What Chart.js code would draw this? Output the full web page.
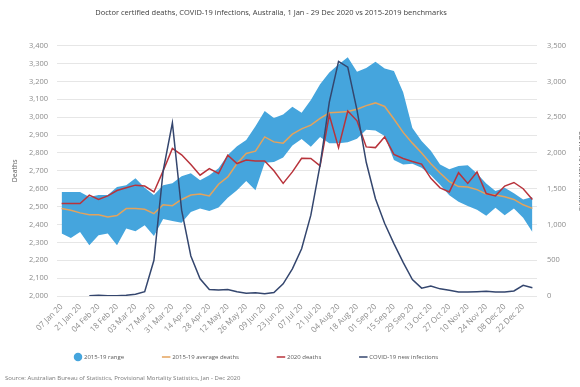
<!DOCTYPE html>
<html>
<head>
<meta charset="utf-8">
<script src="https://cdn.jsdelivr.net/npm/chart.js@4/dist/chart.umd.min.js"></script>
<style>
  html, body { margin: 0; padding: 0; overflow: hidden; background: #fff; }
  #wrap { position: relative; width: 588px; height: 387px; }
</style>
</head>
<body>
<div id="wrap"><canvas id="chart"></canvas></div>
<script>
// Week-ending dates, 2020
const weeks = [
  '07 Jan 20', '14 Jan 20', '21 Jan 20', '28 Jan 20',
  '04 Feb 20', '11 Feb 20', '18 Feb 20', '25 Feb 20',
  '03 Mar 20', '10 Mar 20', '17 Mar 20', '24 Mar 20', '31 Mar 20',
  '07 Apr 20', '14 Apr 20', '21 Apr 20', '28 Apr 20',
  '05 May 20', '12 May 20', '19 May 20', '26 May 20',
  '02 Jun 20', '09 Jun 20', '16 Jun 20', '23 Jun 20', '30 Jun 20',
  '07 Jul 20', '14 Jul 20', '21 Jul 20', '28 Jul 20',
  '04 Aug 20', '11 Aug 20', '18 Aug 20', '25 Aug 20',
  '01 Sep 20', '08 Sep 20', '15 Sep 20', '22 Sep 20', '29 Sep 20',
  '06 Oct 20', '13 Oct 20', '20 Oct 20', '27 Oct 20',
  '03 Nov 20', '10 Nov 20', '17 Nov 20', '24 Nov 20',
  '01 Dec 20', '08 Dec 20', '15 Dec 20', '22 Dec 20', '29 Dec 20'
];

// 2015-19 weekly range of doctor certified deaths
const rangeHigh = [2582, 2582, 2582, 2554, 2565, 2565, 2610, 2620, 2659, 2605, 2565, 2620, 2631,
  2670, 2687, 2648, 2676, 2715, 2788, 2838, 2872, 2950, 3035, 2995, 3015, 3058,
  3025, 3096, 3185, 3250, 3295, 3335, 3254, 3275, 3310, 3273, 3258, 3140, 2940,
  2867, 2812, 2735, 2709, 2727, 2732, 2685, 2629, 2587, 2605, 2575, 2540, 2554];
const rangeLow = [2350, 2325, 2358, 2284, 2340, 2350, 2284, 2378, 2362, 2396, 2335, 2430, 2420,
  2410, 2470, 2490, 2475, 2495, 2550, 2592, 2643, 2592, 2745, 2750, 2775, 2842,
  2878, 2835, 2890, 2855, 2855, 2860, 2880, 2930, 2925, 2895, 2760, 2735, 2740,
  2718, 2675, 2622, 2563, 2527, 2503, 2483, 2449, 2493, 2452, 2489, 2437, 2358];

// 2015-19 average weekly deaths
const avgDeaths = [2490, 2480, 2465, 2455, 2455, 2442, 2450, 2489, 2489, 2485, 2461, 2510, 2505,
  2540, 2565, 2570, 2560, 2625, 2666, 2741, 2797, 2810, 2890, 2862, 2855, 2905,
  2935, 2956, 2993, 3025, 3028, 3032, 3045, 3065, 3080, 3060, 2990, 2915, 2855,
  2800, 2740, 2688, 2640, 2612, 2610, 2595, 2570, 2565, 2555, 2540, 2510, 2490];

// 2020 weekly deaths
const deaths2020 = [2517, 2517, 2517, 2564, 2540, 2560, 2590, 2605, 2620, 2615, 2582, 2700, 2825,
  2790, 2735, 2676, 2713, 2685, 2788, 2741, 2760, 2755, 2755, 2700, 2630, 2694,
  2770, 2769, 2728, 3012, 2830, 3035, 2980, 2834, 2830, 2890, 2792, 2769, 2752,
  2738, 2658, 2605, 2582, 2690, 2630, 2694, 2573, 2560, 2615, 2635, 2600, 2540];

// COVID-19 new infections per week
const newInfections = [null, null, null, 5, 10, 5, 3, 10, 25, 60, 500, 1750, 2420,
  1200, 560, 240, 90, 85, 90, 60, 40, 45, 33, 50, 170, 380,
  660, 1130, 1830, 2710, 3280, 3200, 2600, 1870, 1360, 1013, 733, 470, 230,
  110, 140, 100, 80, 55, 55, 60, 65, 55, 55, 70, 150, 115];

const deathTicks = { min: 2000, max: 3400, step: 100 };
const infectionTicks = { min: 0, max: 3500, step: 500 };

const titleText = 'Doctor certified deaths, COVID-19 infections, Australia, 1 Jan - 29 Dec 2020 vs 2015-2019 benchmarks';
const sourceText = 'Source: Australian Bureau of Statistics, Provisional Mortality Statistics, Jan - Dec 2020';

const FONT = "'Open Sans', 'Liberation Sans', sans-serif";
const BAND = '#45a5dd';
const AVG = '#e4a35c';
const RED = '#b8333b';
const NAVY = '#34466e';
const LEGEND_PAD = 39;

// Places the title, legend and source note
const placeBlocks = {
  id: 'placeBlocks',
  afterLayout(chart) {
    const t = chart.titleBlock;
    if (t) { t.left = 0; t.right = 542; }
    const lg = chart.legend;
    if (lg) {
      const d = 36 - lg.left; lg.left += d; lg.right += d;
      lg.top = 357 - LEGEND_PAD - 3;
      lg.bottom = lg.top + LEGEND_PAD + 18;
      lg.height = lg.bottom - lg.top;
    }
    chart.boxes.forEach(b => {
      if (b !== t && b.options && b.options.text === sourceText) {
        const w = b.right - b.left; b.left = 5; b.right = 5 + w;
      }
    });
  }
};

new Chart(document.getElementById('chart'), {
  type: 'line',
  data: {
    labels: weeks,
    datasets: [
      {
        label: '2015-19 range',
        data: rangeHigh,
        yAxisID: 'y',
        borderWidth: 0,
        borderColor: BAND,
        backgroundColor: BAND,
        pointRadius: 0,
        pointStyle: 'circle',
        fill: '+1',
        order: 5
      },
      {
        label: 'range low',
        data: rangeLow,
        yAxisID: 'y',
        borderWidth: 0,
        borderColor: BAND,
        backgroundColor: BAND,
        pointRadius: 0,
        fill: false,
        order: 5
      },
      {
        label: '2015-19 average deaths',
        data: avgDeaths,
        yAxisID: 'y',
        borderColor: AVG,
        backgroundColor: AVG,
        borderWidth: 1.5,
        pointRadius: 0,
        pointStyle: 'line',
        fill: false,
        order: 3
      },
      {
        label: '2020 deaths',
        data: deaths2020,
        yAxisID: 'y',
        borderColor: RED,
        backgroundColor: RED,
        borderWidth: 1.5,
        pointRadius: 0,
        pointStyle: 'line',
        fill: false,
        order: 2
      },
      {
        label: 'COVID-19 new infections',
        data: newInfections,
        yAxisID: 'y2',
        borderColor: NAVY,
        backgroundColor: NAVY,
        borderWidth: 1.5,
        pointRadius: 0,
        pointStyle: 'line',
        fill: false,
        order: 1
      }
    ]
  },
  options: {
    responsive: true,
    maintainAspectRatio: false,
    animation: false,
    devicePixelRatio: 1,
    layout: { padding: 0 },
    plugins: {
      title: {
        display: true,
        text: titleText,
        color: '#404040',
        font: { family: FONT, size: 7.5, weight: 'normal', lineHeight: 1.2 },
        padding: { top: 8.2, bottom: 28.5 }
      },
      subtitle: {
        display: true,
        position: 'bottom',
        align: 'start',
        text: sourceText,
        color: '#7a7a7a',
        font: { family: FONT, size: 6, lineHeight: 1.2 },
        padding: { top: 4, bottom: 5.3 }
      },
      legend: {
        position: 'bottom',
        align: 'start',
        maxHeight: 29.5,
        labels: {
          usePointStyle: true,
          padding: LEGEND_PAD,
          color: '#595959',
          font: { family: FONT, size: 6 },
          filter: item => item.datasetIndex !== 1,
          sort: (a, b) => a.datasetIndex - b.datasetIndex
        }
      },
      tooltip: { enabled: false }
    },
    scales: {
      x: {
        offset: true,
        grid: { display: false, drawTicks: false },
        border: { display: false },
        afterFit(scale) { scale.height = 45; },
        ticks: {
          autoSkip: false,
          minRotation: 45,
          maxRotation: 45,
          padding: 6,
          color: '#8c8c8c',
          font: { family: FONT, size: 8 },
          callback(value, index) { return index % 2 === 0 ? this.getLabelForValue(value) : ''; }
        }
      },
      y: {
        position: 'left',
        min: deathTicks.min,
        max: deathTicks.max,
        afterFit(scale) { scale.width = 57; },
        grid: { color: '#e6e6e6', lineWidth: 1, drawTicks: false },
        border: { display: false },
        ticks: {
          stepSize: deathTicks.step,
          padding: 9,
          color: '#8c8c8c',
          font: { family: FONT, size: 7.5 }
        },
        title: {
          display: true,
          text: 'Deaths',
          color: '#595959',
          font: { family: FONT, size: 7 },
          padding: { top: 11, bottom: 0 }
        }
      },
      y2: {
        position: 'right',
        min: infectionTicks.min,
        max: infectionTicks.max,
        afterFit(scale) { scale.width = 51; },
        grid: { display: false, drawTicks: false },
        border: { display: false },
        ticks: {
          stepSize: infectionTicks.step,
          padding: 10,
          color: '#8c8c8c',
          font: { family: FONT, size: 7.5 }
        },
        title: {
          display: true,
          text: 'COVID-19 new infections',
          color: '#595959',
          font: { family: FONT, size: 7 },
          padding: { top: 3.3, bottom: 0 }
        }
      }
    }
  },
  plugins: [placeBlocks]
});
</script>
</body>
</html>
